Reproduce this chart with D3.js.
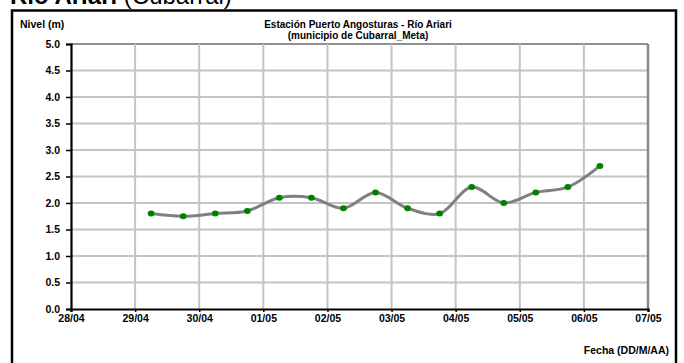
<!DOCTYPE html>
<html><head><meta charset="utf-8">
<script src="https://cdn.jsdelivr.net/npm/d3@7"></script>
<style>
html,body{margin:0;padding:0;background:#fff;overflow:hidden}
svg{display:block;font-family:"Liberation Sans",Arial,sans-serif}
</style></head>
<body><svg id="c" width="684" height="363"></svg>
<script>
const dates = ["2011-04-29T06:00","2011-04-29T18:00","2011-04-30T06:00","2011-04-30T18:00","2011-05-01T06:00","2011-05-01T18:00","2011-05-02T06:00","2011-05-02T18:00","2011-05-03T06:00","2011-05-03T18:00","2011-05-04T06:00","2011-05-04T18:00","2011-05-05T06:00","2011-05-05T18:00","2011-05-06T06:00"];
const levels = [1.8,1.75,1.8,1.85,2.1,2.1,1.9,2.2,1.9,1.8,2.3,2.0,2.2,2.3,2.7];
const yTicks = [0,0.5,1,1.5,2,2.5,3,3.5,4,4.5,5];
const xDomain = ["2011-04-28T00:00","2011-05-07T00:00"];

const parse = d3.isoParse;
const svg = d3.select("#c");
const L=71, R=648, T=44, B=309;
const x = d3.scaleTime().domain(xDomain.map(parse)).range([L,R]);
const y = d3.scaleLinear().domain([0,5]).range([B,T]);
const xTicks = d3.timeDay.range(parse(xDomain[0]), d3.timeDay.offset(parse(xDomain[1]),1));

// page title (cropped at top, as in the reference)
svg.append("text").attr("x",10).attr("y",4).attr("font-size",24)
  .call(t=>{t.append("tspan").attr("font-weight","bold").text("Río Ariari ");
            t.append("tspan").text("(Cubarral)");});

// outer frame
svg.append("rect").attr("x",12).attr("y",10.5).attr("width",664).attr("height",360)
  .attr("fill","none").attr("stroke","#000").attr("stroke-width",2.5);

// grid
const g = svg.append("g");
g.selectAll(".hg").data(yTicks.filter(d=>d>0)).join("line")
  .attr("x1",L).attr("x2",R).attr("y1",d=>y(d)).attr("y2",d=>y(d))
  .attr("stroke",d=>d===5?"#909090":"#c4c4c4").attr("stroke-width",2);
g.selectAll(".vg").data(xTicks.slice(1)).join("line")
  .attr("x1",d=>x(d)).attr("x2",d=>x(d)).attr("y1",T).attr("y2",B)
  .attr("stroke",(d,i,a)=>i===a.length-1?"#888":"#c4c4c4").attr("stroke-width",(d,i,a)=>i===a.length-1?2.5:2);

// axes
const ya = svg.append("g").attr("transform",`translate(${L},0)`)
  .call(d3.axisLeft(y).tickValues(yTicks).tickFormat(d3.format(".1f")).tickSize(5).tickPadding(6));
const xa = svg.append("g").attr("transform",`translate(0,${B})`)
  .call(d3.axisBottom(x).tickValues(xTicks).tickFormat(d3.timeFormat("%d/%m")).tickSize(3).tickPadding(3));
[ya,xa].forEach(a=>{
  a.select(".domain").attr("stroke","#000").attr("stroke-width",2.2);
  a.selectAll(".tick line").attr("stroke","#000").attr("stroke-width",1.5);
  a.selectAll("text").attr("font-size",10.5).attr("font-weight","bold").attr("fill","#000")
   .attr("font-family","Liberation Sans, Arial, sans-serif");
});

// line
const pts = dates.map((d,i)=>({t:parse(d),v:levels[i]}));
svg.append("path").datum(pts)
  .attr("d",d3.line().x(d=>x(d.t)).y(d=>y(d.v)).curve(d3.curveCatmullRom.alpha(0.5)))
  .attr("fill","none").attr("stroke","#808080").attr("stroke-width",3);
svg.selectAll(".pt").data(pts).join("ellipse")
  .attr("cx",d=>x(d.t)).attr("cy",d=>y(d.v)).attr("rx",3.4).attr("ry",3)
  .attr("fill","#008000");

// labels
svg.append("text").attr("x",20).attr("y",28).attr("font-size",10.5).attr("font-weight","bold").text("Nivel (m)");
svg.append("text").attr("x",358).attr("y",28).attr("text-anchor","middle").attr("font-size",10).attr("font-weight","bold").text("Estación Puerto Angosturas - Río Ariari");
svg.append("text").attr("x",358).attr("y",39).attr("text-anchor","middle").attr("font-size",10).attr("font-weight","bold").text("(municipio de Cubarral_Meta)");
svg.append("text").attr("x",669).attr("y",354).attr("text-anchor","end").attr("font-size",10.5).attr("font-weight","bold").text("Fecha (DD/M/AA)");
</script></body></html>
